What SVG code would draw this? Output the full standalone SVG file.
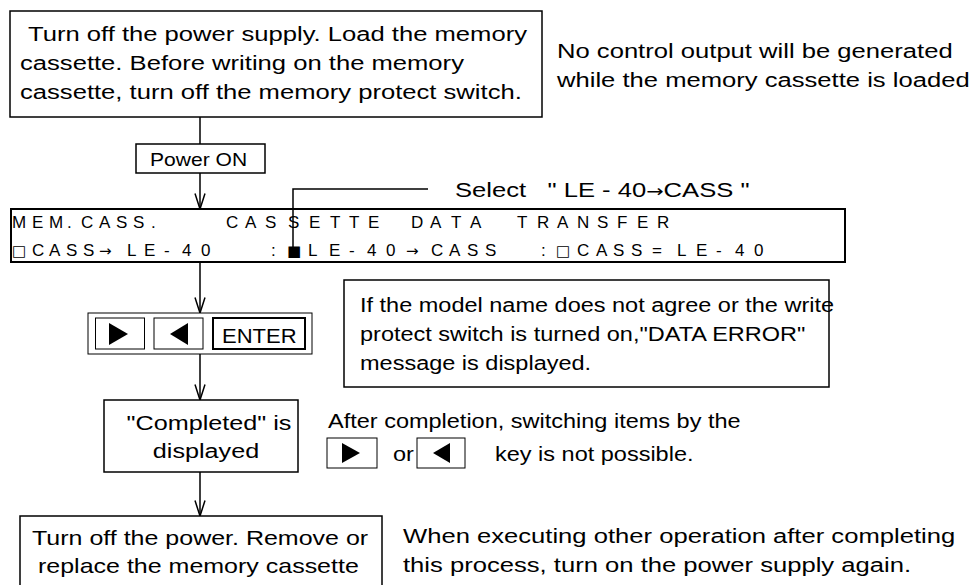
<svg xmlns="http://www.w3.org/2000/svg" width="979" height="585" viewBox="0 0 979 585">
<style>
.box{fill:#fff;stroke:#000;stroke-width:1.5}
.lcd{fill:#fff;stroke:#000;stroke-width:2}
.thin{fill:#fff;stroke:#000;stroke-width:1}
.thick{fill:#fff;stroke:#000;stroke-width:2}
.t{font-family:"Liberation Sans",Arial,sans-serif;font-size:21px;fill:#000;white-space:pre}
.s18{font-size:18px}
.s20{font-size:20px}
.lt{font-family:"Liberation Sans",Arial,sans-serif;font-size:17px;fill:#000;white-space:pre}
.sym{font-family:"DejaVu Sans",sans-serif;font-size:15px}
.tri{fill:#000;stroke:none}
.conn line,.conn polyline{fill:none;stroke:#000;stroke-width:1.5}
</style>
<defs>
<marker id="v" markerUnits="userSpaceOnUse" markerWidth="18" markerHeight="12" viewBox="0 0 18 12" refX="16.5" refY="6" orient="auto">
<path d="M1,1 L16.5,6 L1,11" fill="none" stroke="#000" stroke-width="1.5"/>
</marker>
</defs>
<rect width="979" height="585" fill="#fff"/>

<g id="connectors" class="conn">
<line x1="200" y1="117" x2="200" y2="144"/>
<line x1="200" y1="173" x2="200" y2="209" marker-end="url(#v)"/>
<line x1="200" y1="262" x2="200" y2="313" marker-end="url(#v)"/>
<line x1="200" y1="354" x2="200" y2="400" marker-end="url(#v)"/>
<line x1="200" y1="472" x2="200" y2="516" marker-end="url(#v)"/>
</g>

<g id="node-start">
<rect class="box" x="10" y="11" width="532" height="106"/>
<text class="t" transform="translate(28,41) scale(1.22,1)">Turn off the power supply. Load the memory</text>
<text class="t" transform="translate(20,70) scale(1.22,1)">cassette. Before writing on the memory</text>
<text class="t" transform="translate(20,99) scale(1.22,1)">cassette, turn off the memory protect switch.</text>
</g>

<g id="note-output">
<text class="t" transform="translate(557,58) scale(1.22,1)">No control output will be generated</text>
<text class="t" transform="translate(557,87) scale(1.22,1)">while the memory cassette is loaded</text>
</g>

<g id="node-power">
<rect class="box" x="136" y="144" width="129" height="29"/>
<text class="t s18" transform="translate(150,166) scale(1.17,1)">Power ON</text>
</g>

<g id="node-lcd">
<rect class="lcd" x="11" y="209" width="834" height="53"/>
<text class="lt" xml:space="preserve" y="228" x="12 32 49 67 81 99 116 133 151 169 188 207 226 245 265 288 309 330 349 368 390 411 430 451 470 485 500 517 537 557 577 597 617 637 657">MEM.CASS.   CASSETTE DATA  TRANSFER</text>
<text class="lt" xml:space="preserve" y="256" x="12 32 49 66 83 99 127 144 164 182 201 220 238 256 271 287 308 329 349 367 386 406 431 449 467 485 503 515 527 541 556 577 596 613 631 652 677 696 716 735 754"><tspan class="sym">□</tspan>CASS<tspan class="sym">→</tspan>LE-40   :<tspan class="sym">■</tspan>LE-40<tspan class="sym">→</tspan>CASS   :<tspan class="sym">□</tspan>CASS=LE-40</text>
</g>

<g id="note-select">
<polyline class="conn" points="293,248 293,189 428,189" fill="none" stroke="#000" stroke-width="1.5"/>
<text class="t" transform="translate(455,197) scale(1.22,1)">Select   " LE - 40<tspan style="font-family:'DejaVu Sans',sans-serif;font-size:17px">→</tspan>CASS "</text>
</g>

<g id="node-keys">
<rect class="thin" x="88" y="313" width="224" height="41"/>
<rect class="thin" x="95.5" y="318" width="49" height="31"/>
<polygon class="tri" points="109,323 128,334 109,345"/>
<rect class="thin" x="154" y="318" width="49" height="31"/>
<polygon class="tri" points="188,323 170,334 188,345"/>
<rect class="thick" x="213" y="318" width="92" height="31"/>
<text class="t s20" transform="translate(222,343) scale(1.1,1)">ENTER</text>
</g>

<g id="note-error">
<rect class="box" x="344" y="280" width="485" height="107" fill="none"/>
<text class="t s20" transform="translate(360,312) scale(1.175,1)">If the model name does not agree or the write</text>
<text class="t s20" transform="translate(360,341) scale(1.175,1)">protect switch is turned on,"DATA ERROR"</text>
<text class="t s20" transform="translate(360,370) scale(1.175,1)">message is displayed.</text>
</g>

<g id="node-completed">
<rect class="box" x="104" y="400" width="194" height="72"/>
<text class="t" text-anchor="middle" transform="translate(209,430) scale(1.2,1)">"Completed" is</text>
<text class="t" text-anchor="middle" transform="translate(206,458) scale(1.2,1)">displayed</text>
</g>

<g id="note-after">
<text class="t s20" transform="translate(328,428) scale(1.175,1)">After completion, switching items by the</text>
<rect class="thin" x="327" y="438" width="50" height="30"/>
<polygon class="tri" points="342,443 360,453 342,463"/>
<text class="t s20" transform="translate(393,461) scale(1.175,1)">or</text>
<rect class="thin" x="417" y="438" width="48" height="30"/>
<polygon class="tri" points="450,443 433,453 450,463"/>
<text class="t s20" transform="translate(495,461) scale(1.175,1)">key is not possible.</text>
</g>

<g id="node-end">
<rect class="box" x="20" y="516" width="362" height="80"/>
<text class="t" transform="translate(32,545) scale(1.19,1)">Turn off the power. Remove or</text>
<text class="t" transform="translate(38,573) scale(1.19,1)">replace the memory cassette</text>
</g>

<g id="note-again">
<text class="t" transform="translate(403,543) scale(1.22,1)">When executing other operation after completing</text>
<text class="t" transform="translate(403,572) scale(1.22,1)">this process, turn on the power supply again.</text>
</g>
</svg>
